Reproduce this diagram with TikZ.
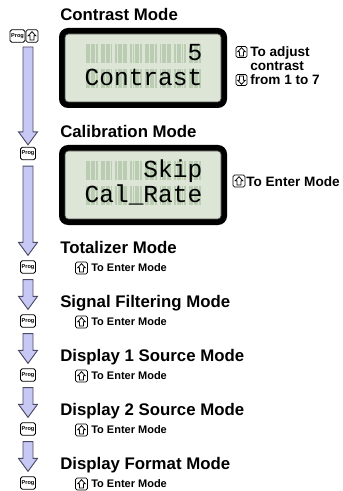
\documentclass[tikz,border=0pt]{standalone}
\usepackage{fontspec}
\setmainfont{Liberation Sans}
\newfontfamily\lcdfont{Liberation Mono}
\usetikzlibrary{calc}
\definecolor{lcdbg}{HTML}{DDE6D6}
\definecolor{lcdcell}{HTML}{BACDB3}
\definecolor{lav}{HTML}{C8C8F4}
\definecolor{lavline}{HTML}{4A4A66}
\def\px{*0.75pt}
\tikzset{
  title/.style={anchor=base west, inner sep=0pt, font=\fontsize{12.6}{14}\selectfont\bfseries},
  note/.style={anchor=base west, inner sep=0pt, font=\fontsize{10.2}{12}\selectfont\bfseries},
  smallnote/.style={anchor=base west, inner sep=0pt, font=\fontsize{8.25}{10}\selectfont\bfseries},
  progkey/.style={draw=black, fill=white, line width=0.6pt, rounded corners=1.3pt,
    minimum width=15\px, minimum height=12.5\px, inner sep=0pt,
    font=\fontsize{4.2}{5}\selectfont\bfseries},
  keybox/.style={draw=black, fill=white, line width=0.6pt, rounded corners=1.2pt,
    minimum width=12\px, minimum height=12\px, inner sep=0pt},
  lcdframe/.style={fill=black, rounded corners=6.75pt, minimum width=168\px,
    minimum height=80\px, inner sep=0pt},
  lcdinner/.style={fill=lcdbg, draw=black!70, line width=0.5pt, rounded corners=2.5pt,
    minimum width=156\px, minimum height=68\px, inner sep=0pt},
  lcdtext/.style={anchor=base west, inner sep=0pt, outer sep=0pt,
    font=\lcdfont\fontsize{18.375}{20}\selectfont},
  blockarrow/.style={draw=lavline, fill=lav, line width=0.7pt, line join=miter}
}
\newcommand\upglyph[1]{\draw[line width=0.55pt, line join=miter, shift={(#1.center)}]
  (0,-4.3) -- (3.9,-0.2) -- (1.9,-0.2) -- (1.9,4) -- (-1.9,4) -- (-1.9,-0.2) -- (-3.9,-0.2) -- cycle;}
\newcommand\downglyph[1]{\draw[line width=0.55pt, line join=miter, shift={(#1.center)}]
  (0,4.3) -- (3.9,0.2) -- (1.9,0.2) -- (1.9,-4) -- (-1.9,-4) -- (-1.9,0.2) -- (-3.9,0.2) -- cycle;}
\newcommand\barrow[2]{\draw[blockarrow] let \p1=(#1), \p2=(#2) in
  (\x1-3.75pt,\y1) -- (\x1+3.75pt,\y1) -- (\x1+3.75pt,\y2+9.75pt) -- (\x1+7.125pt,\y2+9.75pt)
  -- (\x1,\y2) -- (\x1-7.125pt,\y2+9.75pt) -- (\x1-3.75pt,\y2+9.75pt) -- cycle;}
\newcommand\lcdcells[1]{%
  \foreach \r in {16,41} \foreach \i in {0,...,7} \foreach \j in {0,...,4}
    \fill[lcdcell] ({86+14.7*\i+2.45*\j},{#1+\r}) rectangle ++(1.9,19);}
\begin{document}
\begin{tikzpicture}[x=0.75pt, y=-0.75pt]
\useasboundingbox[fill=white] (0,0) rectangle (342,491);

% ---------- Contrast mode ----------
\node[title] (t1) at (60,21) {Contrast Mode};
\node[progkey] (p1) at (17.5,36) {Prog};
\node[keybox, minimum height=12.5\px] (k0) at (32,36) {};
\upglyph{k0}
\node[lcdframe] (lcd1) at (143,68) {};
\node[lcdinner] (lcd1i) at (lcd1.center) {};
\lcdcells{28}
\node[lcdtext] (l1a) at (187.55,60.6) {5};
\node[lcdtext] (l1b) at (84.65,85.6) {Contrast};
\node[keybox, minimum width=11\px, minimum height=11\px] (k1) at (241.5,52) {};
\upglyph{k1}
\node[note] (n1) at (250,57) {To adjust};
\node[note] (n2) at (250,71) {contrast};
\node[keybox, minimum width=11\px, minimum height=11\px] (k2) at (241.5,80) {};
\downglyph{k2}
\node[note] (n3) at (250,85) {from 1 to 7};

% ---------- Calibration mode ----------
\node[title] (t2) at (60,138) {Calibration Mode};
\node[progkey] (p2) at (28,153.5) {Prog};
\node[lcdframe] (lcd2) at (143,185) {};
\node[lcdinner] (lcd2i) at (lcd2.center) {};
\lcdcells{145}
\node[lcdtext] (l2a) at (143.45,177.6) {Skip};
\node[lcdtext] (l2b) at (84.65,202.6) {Cal\_Rate};
\node[keybox] (k3) at (239,181) {};
\upglyph{k3}
\node[note] (n4) at (246,187) {To Enter Mode};

% ---------- lower modes ----------
\node[title] (t3) at (60,253) {Totalizer Mode};
\node[title] (t4) at (60,307) {Signal Filtering Mode};
\node[title] (t5) at (60,361) {Display 1 Source Mode};
\node[title] (t6) at (60,415) {Display 2 Source Mode};
\node[title] (t7) at (60,469) {Display Format Mode};
\foreach \n/\yy in {3/267,4/321,5/375,6/429,7/483}{
  \node[progkey] (p\n) at (28,\yy) {Prog};
  \node[keybox] (u\n) at (81.5,\yy+1) {};
  \upglyph{u\n}
  \node[smallnote] (e\n) at (91,\yy+4) {To Enter Mode};
}

% ---------- block arrows ----------
\coordinate (s1) at (28,47);
\coordinate (e1) at ($(p2.north)+(0,-2)$);
\barrow{s1}{e1}
\foreach \a/\b in {2/3,3/4,4/5,5/6,6/7}{
  \coordinate (s\a) at ($(p\a.south)+(0,6)$);
  \coordinate (e\a) at ($(p\b.north)+(0,-5)$);
  \barrow{s\a}{e\a}
}
\end{tikzpicture}
\end{document}
